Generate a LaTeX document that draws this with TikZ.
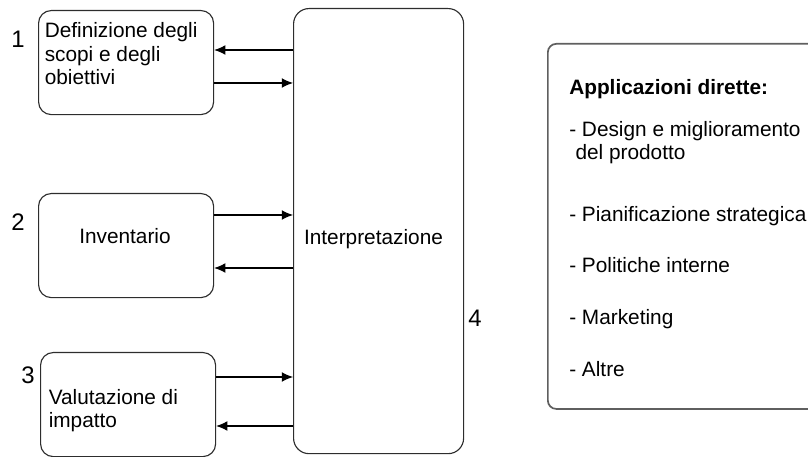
\documentclass[tikz,border=0pt]{standalone}
\usepackage{fontspec}
\setmainfont{Liberation Sans}
\usetikzlibrary{arrows.meta,positioning}
\definecolor{BoxGray}{RGB}{45,45,45}
\definecolor{FrameGray}{RGB}{95,95,95}
\tikzset{
  phase/.style={draw=BoxGray,line width=0.8pt,rounded corners=9pt,
    minimum width=4.375cm,minimum height=2.6cm,anchor=north west},
  txt/.style={font=\fontsize{14.8}{16.5}\selectfont,inner sep=0pt,align=left},
  num/.style={font=\fontsize{17}{20}\selectfont,inner sep=0pt},
  flow/.style={-{Latex[length=8pt,width=7pt]},line width=0.8pt,black}
}

\begin{document}
\begin{tikzpicture}[x=0.025cm,y=-0.025cm]
  \useasboundingbox (0,0) rectangle (808,457);
  \clip (0,0) rectangle (808,457);

  % phases on the left
  \node[phase] (def) at (38,10) {};
  \node[phase] (inv) at (38,193) {};
  \node[phase] (val) at (40,352) {};
  \node[draw=BoxGray,line width=0.8pt,rounded corners=11pt,anchor=north west,
        minimum width=4.25cm,minimum height=11.125cm] (interp) at (293,8) {};

  \node[txt,anchor=north west] (deftext) at (44.5,22.5)
    {Definizione degli\\scopi e degli\\obiettivi};
  \node[txt] (invtext) at (125,236) {Inventario};
  \node[txt,anchor=north west] (valtext) at (48.5,389) {Valutazione di\\impatto};
  \node[txt,anchor=base] (interptext) at (373.5,244.5) {Interpretazione};

  \node[num] (n1) at (18,39) {1};
  \node[num] (n2) at (18,222) {2};
  \node[num] (n3) at (28,375) {3};
  \node[num] (n4) at (475,318) {4};

  % arrows to and from the interpretation
  \draw[flow] (interp.west |- 0,50) -- (def.east |- 0,50);
  \draw[flow] (def.east |- 0,83) -- (interp.west |- 0,83);
  \draw[flow] (inv.east |- 0,215) -- (interp.west |- 0,215);
  \draw[flow] (interp.west |- 0,268) -- (inv.east |- 0,268);
  \draw[flow] (val.east |- 0,377) -- (interp.west |- 0,377);
  \draw[flow] (interp.west |- 0,426) -- (val.east |- 0,426);

  % applications
  \node[draw=FrameGray,line width=1.2pt,rounded corners=6pt,anchor=north west,
        minimum width=7.5cm,minimum height=9.125cm] (apps) at (547,43) {};
  \node[txt,font=\fontsize{14.8}{16.5}\selectfont\bfseries,anchor=base west]
    (head) at (569,95) {Applicazioni dirette:};
  \node[txt,anchor=base west] (app1) at (569,160)
    {- Design e miglioramento\\\hspace*{0.3em}del prodotto};
  \node[txt,anchor=base west] (app2) at (569,222) {- Pianificazione strategica};
  \node[txt,anchor=base west] (app3) at (569,273) {- Politiche interne};
  \node[txt,anchor=base west] (app4) at (569,325) {- Marketing};
  \node[txt,anchor=base west] (app5) at (569,377) {- Altre};
\end{tikzpicture}
\end{document}
